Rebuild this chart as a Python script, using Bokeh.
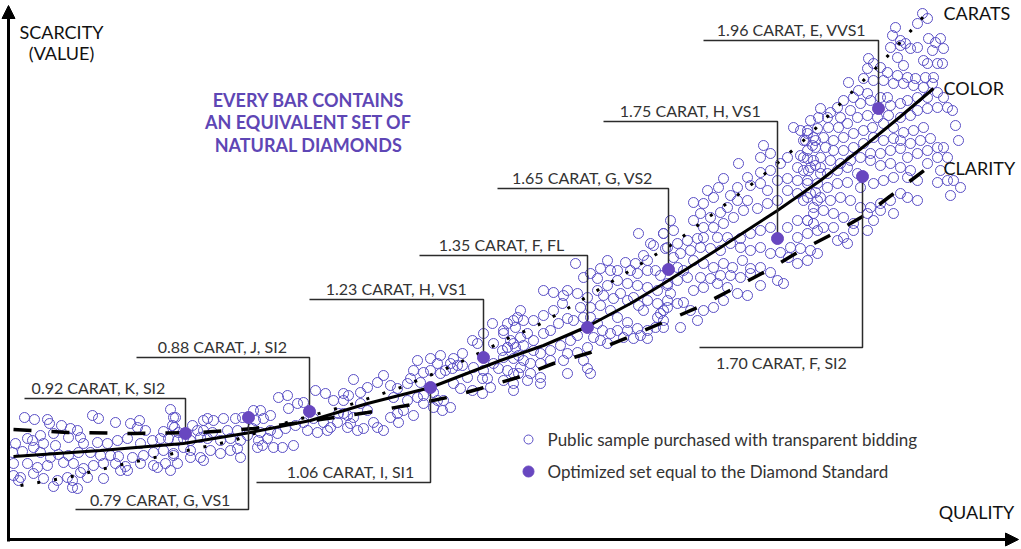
from bokeh.plotting import figure
from bokeh.models import Range1d, Label, Arrow, NormalHead
from bokeh.embed import file_html
from bokeh.resources import INLINE

# ---------------- data (quality on x, scarcity drawn upward: y axis runs top-down in these units) -------------
public_sample = [
    (24,417),(34,419),(47,419),(49,423),(61,425),(70,428),(77,430),(92,415),(98,418),(115,422),(130,423),(139,420),(137,427),(145,430),(163,431),(170,409),(175,417),(174,427),
    (15,443),(27,438),(32,440),(40,435),(53,433),(68,437),(80,437),(83,443),(97,442),(107,443),(117,440),(127,438),(140,443),(152,440),(160,438),(168,438),(33,447),(43,443),(55,445),
    (22,451),(12,452),(40,452),(50,457),(58,454),(68,455),(78,452),(90,452),(100,455),(110,455),(118,456),(132,457),(143,455),(153,452),(163,450),(173,455),
    (13,463),(27,463),(37,467),(47,465),(63,462),(73,463),(83,468),(93,465),(103,463),(115,463),(125,466),(140,463),(153,465),(165,463),(170,470),(157,467),
    (13,475),(18,480),(33,473),(43,478),(57,480),(67,477),(72,480),(80,472),(87,477),(103,478),(120,470),(127,470),(20,477),(72,487),(77,488),(53,486),
    (278,397),(287,395),(297,403),(315,390),(325,393),(333,400),(343,393),(303,402),(288,408),(270,415),(260,410),(263,418),(253,410),(255,420),(242,417),(235,418),(223,418),(213,420),(207,418),(203,420),(173,417),(172,425),(178,432),(192,425),(197,430),(203,430),(212,432),(227,430),(237,430),(252,428),(260,432),(270,430),(277,433),(285,428),(295,425),(303,422),(313,418),(323,422),(330,427),(337,422),(338,413),(347,415),(177,440),(183,438),(190,440),(200,437),(207,438),(220,440),(230,438),(240,440),(247,435),(258,440),(267,438),(273,447),(282,447),(293,445),(307,430),(317,432),(327,430),(183,447),(190,450),(200,457),(210,450),(220,453),(230,450),(237,448),(240,457),(257,447),(262,445),(173,453),(177,463),(190,457),(203,460),
    (492,323),(515,327),(517,317),(503,333),(483,333),(472,340),(477,343),(493,343),(502,350),(507,347),(513,343),(518,355),(462,353),(453,358),(450,363),(457,365),(440,355),(430,358),(437,363),(417,360),(413,370),(423,372),(430,370),(440,373),(445,370),(452,368),(462,365),(473,367),(483,370),(493,363),(498,368),(487,378),(482,378),(467,377),(453,383),(460,388),(472,390),(482,393),(490,387),(503,380),(507,370),(513,383),(518,373),(513,390),(353,379),(383,375),(377,382),(367,387),(360,392),(348,395),(343,400),(390,385),(397,388),(407,383),(410,378),(420,382),(393,397),(407,400),(417,397),(423,395),(433,392),(437,400),(443,400),(450,407),(442,410),(433,407),(423,403),(403,410),(413,415),(397,413),(390,417),(398,422),(360,403),(367,410),(353,417),(350,423),(343,413),(357,430),(373,422),(377,427),(383,430),(363,428),(347,427),
    (638,233),(663,233),(650,243),(653,245),(665,248),(643,255),(647,260),(635,263),(625,262),(630,270),(637,273),(647,270),(655,270),(660,275),(667,285),(657,290),(647,287),(637,285),(627,283),(617,280),(610,270),(607,260),(617,270),(600,268),(590,273),(575,263),(583,277),(597,278),(607,285),(597,290),(603,295),(613,298),(620,293),(627,300),(633,297),(638,305),(647,300),(657,303),(663,310),(667,300),(643,310),(657,317),(663,320),(655,327),(647,330),(637,328),(627,322),(617,317),(610,310),(600,305),(590,307),(580,307),(577,293),(587,297),(567,290),(563,295),(553,292),(543,290),(562,303),(553,310),(543,315),(533,320),(523,320),(520,310),(513,320),(507,323),(503,330),(510,340),(520,337),(527,333),(533,340),(543,333),(550,330),(558,323),(567,318),(573,320),(583,317),(590,317),(597,323),(602,330),(610,333),(617,330),(623,337),(627,330),(633,338),(640,335),(647,338),(600,340),(593,337),(577,335),(570,340),(560,345),(550,350),(540,353),(533,350),(523,345),(515,347),(507,347),(503,357),(513,358),(523,360),(530,363),(540,363),(550,360),(567,353),(577,352),(583,360),(587,368),(590,373),(567,373),(540,377),(530,373),(520,367),(513,373),(527,380),(540,383),(563,360),(587,347),(607,343),
    (793,127),(800,130),(807,133),(815,140),(803,140),(812,145),(763,145),(770,153),(760,157),(787,157),(800,155),(807,158),(815,165),(820,173),(808,170),(797,167),(780,163),(770,170),(760,172),(738,163),(747,177),(760,183),(750,185),(767,190),(777,180),(787,178),(797,180),(807,183),(815,192),(817,200),(807,197),(797,193),(787,190),(777,200),(767,203),(757,208),(747,200),(737,187),(730,195),(723,178),(718,187),(713,197),(707,190),(693,202),(703,203),(700,213),(710,217),(720,212),(727,207),(737,200),(743,210),(733,217),(723,223),(713,227),(703,227),(693,220),(670,220),(673,230),(663,233),(667,247),(677,243),(687,240),(697,238),(703,237),(717,237),(727,237),(740,238),(750,233),(760,230),(770,227),(787,227),(797,220),(807,220),(813,213),(817,230),(807,233),(797,237),(790,247),(800,248),(810,250),(817,253),(807,260),(797,263),(788,257),(780,252),(770,253),(760,247),(750,250),(740,247),(730,243),(720,250),(710,248),(700,247),(690,250),(680,253),(673,257),(677,267),(683,270),(693,260),(703,263),(713,267),(723,263),(732,267),(742,260),(750,268),(760,267),(770,272),(750,273),(740,277),(730,275),(720,275),(710,278),(700,277),(687,277),(677,280),(667,283),(670,293),(677,303),(683,302),(693,290),(703,287),(717,283),(727,287),(737,293),(747,295),(760,285),(777,280),(783,283),(723,300),(713,307),(703,310),(697,320),(680,327),(667,307),(660,313),(663,327),(690,310),
    (922,13),(927,18),(917,23),(895,27),(892,35),(900,40),(890,47),(900,45),(905,43),(910,48),(917,47),(928,38),(935,42),(940,38),(943,48),(932,50),(937,63),(942,63),(923,60),(927,63),(897,57),(903,65),(868,58),(873,63),(880,67),(867,68),(887,72),(897,75),(907,77),(915,78),(925,77),(933,77),(932,83),(923,87),(913,85),(903,83),(893,83),(883,80),(873,80),(863,78),(848,82),(858,90),(867,93),(853,97),(843,100),(837,107),(830,112),(820,108),(818,117),(827,117),(810,120),(840,117),(850,110),(860,103),(870,100),(880,97),(887,97),(890,105),(900,103),(907,100),(917,97),(927,97),(937,92),(943,97),(947,107),(937,107),(927,108),(917,110),(910,115),(900,117),(888,115),(877,117),(867,115),(857,117),(847,123),(838,127),(828,127),(817,128),(807,130),(805,140),(813,137),(823,137),(833,140),(843,137),(853,133),(863,130),(872,127),(883,123),(893,127),(903,132),(913,130),(923,127),(900,140),(893,138),(883,140),(873,137),(863,143),(853,147),(843,150),(833,150),(825,147),(815,147),(807,150),(803,157),(813,160),(820,157),(830,160),(840,163),(850,160),(860,157),(870,153),(880,153),(890,150),(900,148),(910,143),(920,140),(930,138),(937,147),(927,150),(917,153),(907,157),(943,147),(947,157),(937,157),(927,163),(940,170),(947,180),(937,182),(917,180),(910,170),(900,167),(890,163),(880,165),(870,160),(857,173),(847,167),(837,170),(827,173),(820,167),(810,167),(803,170),(807,180),(817,183),(827,187),(837,183),(847,182),(860,187),(873,183),(883,180),(893,177),(907,177),(900,193),(907,197),(917,200),(890,200),(880,203),(870,207),(860,207),(850,200),(840,197),(830,200),(820,197),(810,193),(803,200),(813,207),(823,210),(833,213),(843,217),(853,223),(867,213),(880,210),(893,213),(873,220),(867,230),(853,230),(843,237),(833,227),(823,227),(813,223),(807,220),(837,240),(847,243),
    (952,110),(955,125),(958,140),(953,180),(960,187),(950,195),
]
sample_quality = [q for q, s in public_sample]
sample_scarcity = [s for q, s in public_sample]

carats_q = [20, 67, 117, 173, 233, 283, 347, 400, 453, 490, 507, 533, 567, 600, 633, 673, 713, 760, 800, 843, 883, 917, 928]
carats_s = [485, 477, 465, 453, 440, 423, 405, 387, 365, 347, 338, 327, 308, 288, 268, 243, 213, 177, 143, 100, 60, 23, 10]

color_q = [13, 100, 183, 250, 310, 367, 430, 500, 543, 587, 630, 660, 720, 777, 820, 867, 900, 933]
color_s = [456, 450, 443, 432, 420, 403, 387, 360, 345, 326, 303, 285, 247, 210, 180, 143, 116, 88]

clarity_q = [13, 67, 133, 200, 253, 300, 367, 417, 447, 480, 517, 553, 590, 627, 660, 697, 733, 767, 800, 833, 867, 897, 933]
clarity_s = [429, 432, 433, 432, 428, 422, 412, 403, 397, 388, 377, 363, 352, 337, 323, 307, 288, 270, 250, 233, 213, 190, 163]

opt_labels = ["0.92 CARAT, K, SI2", "0.79 CARAT, G, VS1", "0.88 CARAT, J, SI2", "1.06 CARAT, I, SI1",
              "1.23 CARAT, H, VS1", "1.35 CARAT, F, FL", "1.65 CARAT, G, VS2", "1.75 CARAT, H, VS1",
              "1.70 CARAT, F, SI2", "1.96 CARAT, E, VVS1"]
opt_quality = [185, 248, 309, 430, 483, 587, 668, 777, 862, 878]
opt_scarcity = [433, 417, 411, 387, 357, 327, 269, 238, 176, 108]

# ---------------- annotation layout ----------------
shelf_y = [398, 509, 357, 482, 299, 255, 188, 121, 347, 40]
shelf_x0 = [24, 75, 136, 256, 309, 419, 497, 603, 699, 703]
label_cx = [98, 160, 222, 350, 396, 501, 582, 690, 781, 791]
label_cy = [387, 499, 346, 471, 288, 244, 177, 110, 362, 29]

PURPLE_LINE = "#5a4fc6"
PURPLE_FILL = "#6847c0"
PURPLE_TEXT = "#5e46b5"
FONT = "Lato"

p = figure(width=1021, height=549, x_range=Range1d(0, 1021), y_range=Range1d(549, 0),
           x_axis_type=None, y_axis_type=None, output_backend="svg", toolbar_location=None,
           min_border=0, min_border_left=0, min_border_right=0, min_border_top=0, min_border_bottom=0)
p.outline_line_color = None
p.grid.visible = False
p.background_fill_color = "white"

p.scatter(sample_quality, sample_scarcity, marker="circle", size=10, fill_color=None,
          line_color=PURPLE_LINE, line_width=1)

p.line(carats_q, carats_s, line_color="black", line_width=3, line_dash="3 14")
p.line(color_q, color_s, line_color="black", line_width=3)
p.line(clarity_q, clarity_s, line_color="black", line_width=3.5, line_dash="18 20")

xs, ys = [], []
for q, s, sy, sx0 in zip(opt_quality, opt_scarcity, shelf_y, shelf_x0):
    xs.append([sx0, q, q])
    ys.append([sy, sy, s])
p.multi_line(xs, ys, line_color="#2b2b2b", line_width=1.5)

p.scatter(opt_quality, opt_scarcity, marker="circle", size=12, fill_color=PURPLE_FILL,
          line_color=PURPLE_FILL)

for t, cx, cy in zip(opt_labels, label_cx, label_cy):
    p.add_layout(Label(x=cx, y=cy, text=t, text_align="center", text_baseline="middle",
                       text_font=FONT, text_font_size="16px", text_color="#333333"))

# headline
for t, cy in zip(["EVERY BAR CONTAINS", "AN EQUIVALENT SET OF", "NATURAL DIAMONDS"], [99, 121, 144]):
    p.add_layout(Label(x=308, y=cy, text=t, text_align="center", text_baseline="middle",
                       text_font=FONT, text_font_size="18px", text_font_style="bold", text_color=PURPLE_TEXT))

# curve names
for t, cy in zip(["CARATS", "COLOR", "CLARITY"], [12, 87, 167]):
    p.add_layout(Label(x=943, y=cy, text=t, text_align="left", text_baseline="middle",
                       text_font=FONT, text_font_size="18px", text_color="#111111"))

# axis titles
p.add_layout(Label(x=61, y=31, text="SCARCITY", text_align="center", text_baseline="middle",
                   text_font=FONT, text_font_size="18px", text_color="#111111"))
p.add_layout(Label(x=61, y=52, text="(VALUE)", text_align="center", text_baseline="middle",
                   text_font=FONT, text_font_size="18px", text_color="#111111"))
p.add_layout(Label(x=976, y=511, text="QUALITY", text_align="center", text_baseline="middle",
                   text_font=FONT, text_font_size="18px", text_color="#111111"))

# axes arrows
p.add_layout(Arrow(end=NormalHead(size=13, fill_color="black", line_color="black"),
                   x_start=8, y_start=541, x_end=8, y_end=5, line_width=3, line_color="black"))
p.add_layout(Arrow(end=NormalHead(size=13, fill_color="black", line_color="black"),
                   x_start=8, y_start=539, x_end=1018, y_end=539, line_width=3, line_color="black"))

# legend
legend_texts = ["Public sample purchased with transparent bidding", "Optimized set equal to the Diamond Standard"]
p.scatter([528], [439], marker="circle", size=9, fill_color=None, line_color=PURPLE_LINE, line_width=1)
p.scatter([528], [471], marker="circle", size=11, fill_color=PURPLE_FILL, line_color=PURPLE_FILL)
for t, cy in zip(legend_texts, [439, 471]):
    p.add_layout(Label(x=547, y=cy, text=t, text_align="left", text_baseline="middle",
                       text_font=FONT, text_font_size="17px", text_color="#333333"))

open("out.html", "w").write(file_html(p, INLINE))
